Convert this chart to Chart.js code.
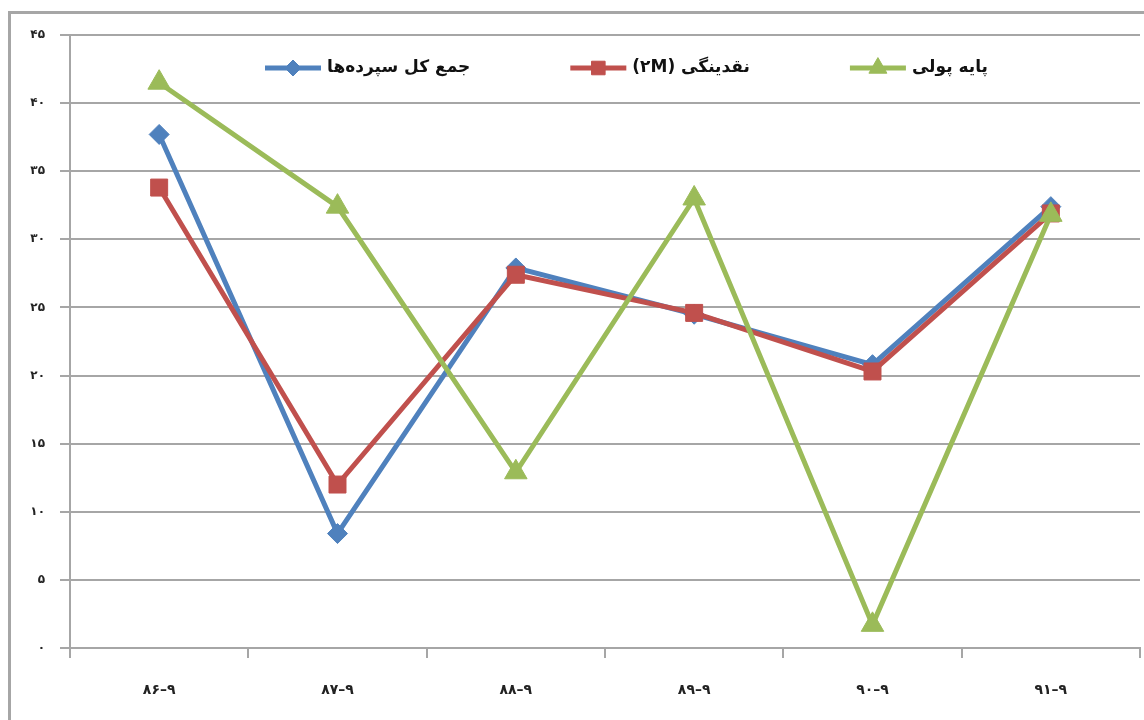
<!DOCTYPE html>
<html lang="fa">
<head>
    <meta charset="UTF-8">
    <title>نقدینگی، پایه پولی و جمع کل سپرده‌ها</title>
    <script src="https://cdn.jsdelivr.net/npm/chart.js"></script>
    <style>
        html, body {
            margin: 0;
            padding: 0;
            width: 1144px;
            height: 720px;
            overflow: hidden;
            background: #fff;
        }
        #frame {
            position: absolute;
            left: 8px;
            top: 11px;
            width: 1200px;
            height: 800px;
            border: 3px solid #a6a6a6;
        }
        #wrap {
            position: absolute;
            left: 0;
            top: 0;
            width: 1154px;
            height: 720px;
        }
    </style>
</head>
<body>
<div id="frame"></div>
<div id="wrap"><canvas id="growthChart"></canvas></div>

<script>
    const categories = ['۸۶–۹', '۸۷–۹', '۸۸–۹', '۸۹–۹', '۹۰–۹', '۹۱–۹'];
    const yTickLabels = ['۰', '۵', '۱۰', '۱۵', '۲۰', '۲۵', '۳۰', '۳۵', '۴۰', '۴۵'];

    const depositsLabel = 'جمع کل سپرده‌ها';
    const liquidityLabel = 'نقدینگی (۲M)';
    const baseLabel = 'پایه پولی';

    const deposits = [37.7, 8.4, 27.9, 24.5, 20.8, 32.4];
    const liquidity = [33.8, 12.0, 27.4, 24.6, 20.3, 31.9];
    const monetaryBase = [41.5, 32.4, 12.9, 33.0, 1.7, 31.8];

    const gridGrey = '#a6a6a6';
    const yTickFont = { family: 'DejaVu Sans', size: 12, weight: 'bold' };
    const xTickFont = { family: 'DejaVu Sans', size: 14, weight: 'bold' };

    // legend drawn inside the plot area, like the excel original
    const insideLegend = {
        id: 'insideLegend',
        afterDraw(chart) {
            const ctx = chart.ctx;
            const area = chart.chartArea;
            const y = area.top + 33;
            const lineLen = 56;
            const gap = 6;
            const spacing = 100;
            let x = area.left + 195;
            const items = [0, 1, 2].map(i => chart.data.datasets[i]);
            ctx.save();
            ctx.font = 'bold 17px DejaVu Sans';
            items.forEach(ds => {
                ctx.strokeStyle = ds.borderColor;
                ctx.fillStyle = ds.borderColor;
                ctx.lineWidth = 5;
                ctx.beginPath();
                ctx.moveTo(x, y);
                ctx.lineTo(x + lineLen, y);
                ctx.stroke();
                ctx.lineWidth = 1;
                Chart.helpers.drawPoint(ctx, {
                    pointStyle: ds.pointStyle,
                    radius: ds.pointRadius * 0.8,
                    borderWidth: 1,
                    rotation: 0
                }, x + lineLen / 2, y);

                ctx.direction = 'rtl';
                ctx.textAlign = 'left';
                ctx.textBaseline = 'middle';
                ctx.fillStyle = '#111';
                const w = ctx.measureText(ds.label).width;
                ctx.fillText(ds.label, x + lineLen + gap, y);
                x += lineLen + gap + w + spacing;
            });
            ctx.restore();
        }
    };

    function series(label, data, color, style, radius, order) {
        return {
            label: label,
            data: data,
            borderColor: color,
            backgroundColor: color,
            borderWidth: 5,
            pointStyle: style,
            pointRadius: radius,
            pointHoverRadius: radius,
            pointBackgroundColor: color,
            pointBorderColor: color,
            pointBorderWidth: 1,
            tension: 0,
            fill: false,
            order: order
        };
    }

    new Chart(document.getElementById('growthChart'), {
        type: 'line',
        data: {
            labels: categories,
            datasets: [
                series(depositsLabel, deposits, '#4f81bd', 'rectRot', 10, 2),
                series(liquidityLabel, liquidity, '#c0504d', 'rect', 12, 1),
                series(baseLabel, monetaryBase, '#9bbb59', 'triangle', 13, 0)
            ]
        },
        options: {
            responsive: true,
            maintainAspectRatio: false,
            animation: false,
            layout: { padding: { top: 35, right: 0, left: 0, bottom: 0 } },
            plugins: {
                legend: { display: false },
                tooltip: { enabled: false }
            },
            scales: {
                x: {
                    offset: true,
                    afterFit: s => { s.height = 72; },
                    grid: {
                        offset: true,
                        drawOnChartArea: false,
                        tickLength: 10,
                        color: gridGrey,
                        lineWidth: 2
                    },
                    border: { display: true, color: gridGrey, width: 2 },
                    ticks: {
                        font: xTickFont,
                        color: '#222',
                        padding: 24,
                        maxRotation: 0
                    }
                },
                y: {
                    min: 0,
                    max: 45,
                    afterFit: s => { s.width = 70; },
                    grid: {
                        color: gridGrey,
                        lineWidth: 2,
                        tickLength: 10
                    },
                    border: { display: true, color: gridGrey, width: 2 },
                    ticks: {
                        stepSize: 5,
                        font: yTickFont,
                        color: '#222',
                        padding: 15,
                        callback: (value, index) => yTickLabels[index]
                    }
                }
            }
        },
        plugins: [insideLegend]
    });
</script>
</body>
</html>
